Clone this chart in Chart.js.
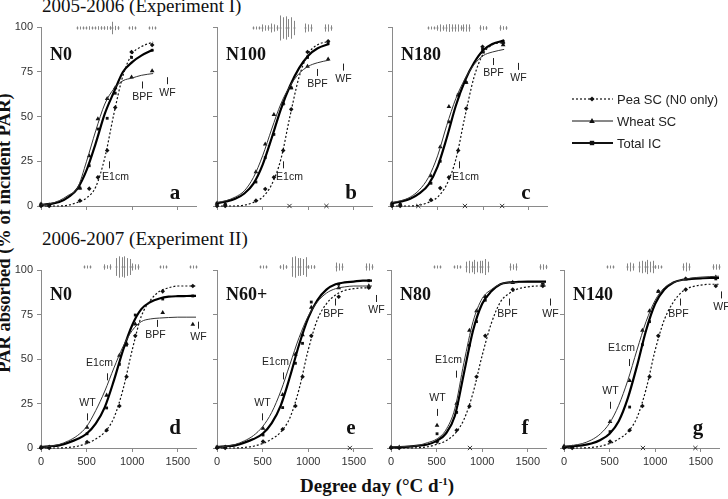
<!DOCTYPE html>
<html>
<head>
<meta charset="utf-8">
<script src="https://cdn.jsdelivr.net/npm/chart.js@4.4.0/dist/chart.umd.min.js"></script>
<style>
  body { margin: 0; background: #fff; width: 728px; height: 499px; overflow: hidden; position: relative; }
  .box { position: absolute; }
  .txt { position: absolute; white-space: nowrap; font-family: "Liberation Serif", "Times New Roman", serif; color: #111; line-height: 1; }
</style>
</head>
<body>
<div class="txt" style="left:42px;top:-4px;font-size:19px;">2005-2006 (Experiment I)</div>
<div class="txt" style="left:42px;top:229px;font-size:19px;">2006-2007 (Experiment II)</div>
<div class="txt" style="left:300px;top:476px;font-size:19px;font-weight:bold;">Degree day (°C d<sup style="font-size:11px;">-1</sup>)</div>
<div class="txt" style="left:4px;top:233px;font-size:18.5px;font-weight:bold;transform:translate(-50%,-50%) rotate(-90deg);">PAR absorbed (% of incident PAR)</div>

<script>
// observation dates (degree days)
const obsX1 = [0, 90, 427, 529, 624, 726, 814, 993, 1219];
const obsX2 = [0, 90, 505, 720, 860, 938, 1034, 1335, 1665];
// x positions where the fitted curves were read
const fitX1 = [0, 100, 200, 300, 400, 500, 600, 700, 800, 900, 1000, 1100, 1230];
const fitX2 = [0, 100, 200, 300, 400, 500, 600, 700, 800, 900, 1000, 1100, 1200, 1300, 1400, 1500, 1600, 1700];
const xTicks = [0, 500, 1000, 1500];
const yTicks = [0, 25, 50, 75, 100];

// --- a: N0 (2005-2006)
const peaObsA   = [0, 0, 3, 9.7, 16, 31, 55, 86, 90];
const wheatObsA = [1, 0.5, 10, 28, 48.6, 60, 66, 72, 75.5];
const totalObsA = [1, 0.5, 10, 22.5, 43, 49, 63, 83, 87];
const peaFitA   = [0, 0, 0, 0.5, 2, 4.5, 10.6, 27, 51.6, 73, 85, 89, 91.6];
const wheatFitA = [0.6, 1.3, 3, 6, 10, 25, 42, 57, 65.5, 70, 71.5, 73, 74];
const totalFitA = [0.6, 1.2, 2.2, 5, 9.7, 20, 35, 51.6, 63.7, 75, 80.4, 84, 87.3];
const peaSeA    = [0.5, 0.8, 0.8, 1, 3.5, 0.8, 0.6];
const wheatSeA  = [0.8, 1, 1, 1, 1.2, 1, 0.5];
const totalSeA  = [0.6, 0.8, 1, 1, 1, 0.8, 0.5];
const signifA   = [];

// --- b: N100
const peaObsB   = [0, 0, 3, 9.5, 16, 31, 54, 86, 92];
const wheatObsB = [1.5, 1, 19, 34.5, 51, 57.5, 66, 78, 82];
const totalObsB = [1.5, 1, 13.4, 27, 40, 57, 66, 83, 91];
const peaFitB   = [0, 0, 0, 0.5, 2, 5, 12, 26, 50, 72, 85, 90, 92];
const wheatFitB = [2, 3, 5, 8.5, 16, 28, 43, 57, 67, 74, 78, 80, 81.5];
const totalFitB = [1.5, 2.5, 4, 7, 12.5, 23, 38, 54, 67, 77, 84, 88, 90.5];
const peaSeB    = [0.5, 2, 2.5, 7, 5, 2.5, 2];
const wheatSeB  = [0.5, 1.5, 2, 6, 6, 2, 2];
const totalSeB  = [0.5, 1.5, 1.5, 6.5, 4, 2, 1.5];
const signifB   = [795, 1200];

// --- c: N180
const peaObsC   = [0, 0, 3.4, 10, 16, 31, 54.5, 89, 91];
const wheatObsC = [1.5, 1, 16.8, 33, 55.5, 62, 69, 86, 90];
const totalObsC = [1.5, 1, 12.7, 25, 47, 62, 69, 87.5, 92];
const peaFitC   = [0, 0, 0, 0.5, 2, 5, 12, 26, 50, 72, 85, 90, 91.5];
const wheatFitC = [2, 3, 5, 9, 16, 28, 45, 60, 71, 79, 84, 86, 87.5];
const totalFitC = [1.5, 2.5, 4, 7, 12, 22, 38, 56, 70, 80, 87, 90.5, 92.5];
const peaSeC    = [0.7, 1.5, 2, 2, 2, 1.5, 1.5];
const wheatSeC  = [0.7, 2, 2.2, 2, 2, 1, 1];
const totalSeC  = [0.5, 1.5, 2, 1.5, 2, 1, 1];
const signifC   = [288, 800, 1208];

// --- d: N0 (2006-2007)
const peaObsD   = [0, 0, 3.4, 10, 23.6, 40, 63, 88, 91];
const wheatObsD = [0.5, 0.5, 11.6, 29.6, 52, 58.7, 69.6, 76, 69.4];
const totalObsD = [0.5, 0.5, 8, 22.5, 47, 57.8, 74.7, 83.7, 85.4];
const peaFitD   = [0, 0, 0, 0.3, 1, 2.5, 5, 9, 17, 33, 55, 74, 83, 88, 90, 91, 91, 91];
const wheatFitD = [0.5, 1, 2, 4, 7, 12, 21, 32, 45, 57, 66, 71, 72.5, 73, 73.3, 73.5, 73.5, 73.5];
const totalFitD = [0.5, 1, 1.5, 3, 5, 8, 13.7, 23, 38, 55, 69, 78, 82, 84, 85, 85.3, 85.4, 85.5];
const peaSeD    = [0.6, 1.5, 5, 6, 2, 0.8, 0.5];
const wheatSeD  = [0.5, 1, 6, 5, 1.5, 0.7, 0.5];
const totalSeD  = [0.5, 1.5, 5.5, 4.5, 1.5, 0.6, 0.5];
const signifD   = [];

// --- e: N60+
const peaObsE   = [0, 0, 3.6, 10.5, 23.6, 40, 63, 85, 90];
const wheatObsE = [0.5, 0.5, 11, 30, 52.6, 63.5, 79, 90, 91];
const totalObsE = [0.5, 0.5, 7.3, 22.7, 47.6, 58.8, 82, 92, 94];
const peaFitE   = [0, 0, 0, 0.3, 1, 2.5, 5, 9, 17, 33, 55, 72, 81, 86, 88.5, 89.5, 90, 90];
const wheatFitE = [0.5, 1, 2, 4, 7, 12, 20, 32, 47, 62, 74, 82, 87, 89.5, 90.5, 91, 91, 91];
const totalFitE = [0.5, 1, 1.5, 3, 5, 8, 14, 24, 40, 58, 73, 83, 89, 92, 93, 93.5, 94, 94];
const peaSeE    = [0.3, 1, 5.5, 5, 1, 2.5, 2];
const wheatSeE  = [0.3, 1.5, 6, 4.5, 1, 2, 2];
const totalSeE  = [0.3, 1, 5, 5.5, 1, 2, 1.5];
const signifE   = [1457];

// --- f: N80
const peaObsF   = [0, 0, 3.5, 10, 23.4, 40, 63, 89, 91];
const wheatObsF = [0.5, 0.5, 12.7, 25, 66, 77, 85, 93, 92.5];
const totalObsF = [0.3, 0.3, 8, 20, 57.8, 71, 83, 93, 93];
const peaFitF   = [0, 0, 0, 0.2, 0.7, 2, 4, 8, 16, 31, 52, 70, 82, 87, 89.5, 90.5, 91, 91];
const wheatFitF = [0.5, 0.7, 1, 1.5, 3, 5, 10, 22, 48, 71, 84, 89, 92, 93, 93, 93, 93, 93];
const totalFitF = [0.3, 0.5, 0.8, 1.3, 2, 4, 8, 18, 42, 66, 81, 88, 92, 93, 93.3, 93.5, 93.5, 93.5];
const peaSeF    = [0.3, 0.8, 3, 4, 3.5, 2, 1.5];
const wheatSeF  = [0.3, 1, 3.5, 3, 4.5, 1.5, 1.5];
const totalSeF  = [0.3, 0.8, 3, 3.5, 3, 2, 1.2];
const signifF   = [866];

// --- g: N140
const peaObsG   = [0, 0, 3.6, 10, 23.6, 40, 63, 89, 91];
const wheatObsG = [1, 0.5, 14.8, 37.8, 66, 77, 88, 95, 96];
const totalObsG = [0.5, 0.5, 9.2, 23, 58, 71, 88, 95, 95];
const peaFitG   = [0, 0, 0, 0.3, 1, 2.5, 5, 9, 17, 33, 55, 72, 82, 88, 90.5, 91.5, 92, 92];
const wheatFitG = [1, 1.5, 2.5, 4.5, 8, 14, 24, 38, 55, 71, 83, 90, 93, 94.5, 95.5, 96, 96.3, 96.5];
const totalFitG = [0.5, 1, 1.5, 2.5, 4.5, 8, 15, 28, 46, 66, 81, 89, 93, 94.5, 95, 95.3, 95.5, 95.5];
const peaSeG    = [0.4, 2, 3, 4, 1, 2, 1.5];
const wheatSeG  = [0.4, 2.5, 3.5, 3, 1, 2.5, 1.5];
const totalSeG  = [0.4, 2, 3, 3.5, 0.8, 2, 1.5];
const signifG   = [866, 1441];

// crop stages: label, degree day, PAR level
const stagesA = [['BPF', 1104, 67.6], ['WF', 1387, 70], ['E1cm', 745, 23]];
const stagesB = [['BPF', 1093, 74.6], ['WF', 1382, 77.6], ['E1cm', 720, 23]];
const stagesC = [['BPF', 1104, 80.7], ['WF', 1385, 78], ['E1cm', 738, 23]];
const stagesD = [['BPF', 1275, 70], ['WF', 1725, 69], ['E1cm', 720, 40], ['WT', 508, 17.5]];
const stagesE = [['BPF', 1289, 82], ['WF', 1749, 84], ['E1cm', 719, 40.5], ['WT', 491, 17.5]];
const stagesF = [['BPF', 1297, 82], ['WF', 1749, 82], ['E1cm', 718, 41.5], ['WT', 500, 20]];
const stagesG = [['BPF', 1275, 82], ['WF', 1721, 86], ['E1cm', 714, 48], ['WT', 505, 24]];

const legendNames = ['Pea SC (N0 only)', 'Wheat SC', 'Total IC'];

// ---------------- layout ----------------
const AXW = 40, AXH = 25, PADT = 14, PLOTW = 155;
const rows = {
  1: { top: 27, bottom: 206, obsX: obsX1, fitX: fitX1, nameDy: 33, letterDy: -7, seDy: 1 },
  2: { top: 270, bottom: 448, obsX: obsX2, fitX: fitX2, nameDy: 30, letterDy: -14, seDy: -3 }
};
const panels = [
  { name: 'N0',   letter: 'a', row: 1, x0: 41,  showY: true,  pea: [peaObsA, peaFitA, peaSeA], wheat: [wheatObsA, wheatFitA, wheatSeA], total: [totalObsA, totalFitA, totalSeA], signif: signifA, stages: stagesA },
  { name: 'N100', letter: 'b', row: 1, x0: 217, showY: false, pea: [peaObsB, peaFitB, peaSeB], wheat: [wheatObsB, wheatFitB, wheatSeB], total: [totalObsB, totalFitB, totalSeB], signif: signifB, stages: stagesB },
  { name: 'N180', letter: 'c', row: 1, x0: 392, showY: false, pea: [peaObsC, peaFitC, peaSeC], wheat: [wheatObsC, wheatFitC, wheatSeC], total: [totalObsC, totalFitC, totalSeC], signif: signifC, stages: stagesC, legend: true },
  { name: 'N0',   letter: 'd', row: 2, x0: 41,  showY: true,  pea: [peaObsD, peaFitD, peaSeD], wheat: [wheatObsD, wheatFitD, wheatSeD], total: [totalObsD, totalFitD, totalSeD], signif: signifD, stages: stagesD },
  { name: 'N60+', letter: 'e', row: 2, x0: 217, showY: false, pea: [peaObsE, peaFitE, peaSeE], wheat: [wheatObsE, wheatFitE, wheatSeE], total: [totalObsE, totalFitE, totalSeE], signif: signifE, stages: stagesE },
  { name: 'N80',  letter: 'f', row: 2, x0: 391, showY: false, pea: [peaObsF, peaFitF, peaSeF], wheat: [wheatObsF, wheatFitF, wheatSeF], total: [totalObsF, totalFitF, totalSeF], signif: signifF, stages: stagesF },
  { name: 'N140', letter: 'g', row: 2, x0: 564, showY: false, pea: [peaObsG, peaFitG, peaSeG], wheat: [wheatObsG, wheatFitG, wheatSeG], total: [totalObsG, totalFitG, totalSeG], signif: signifG, stages: stagesG }
];

const SANS = '"Liberation Sans", Arial, sans-serif';
const SERIF = '"Liberation Serif", "Times New Roman", serif';
Chart.defaults.font.family = SANS;

const pts = (xs, ys) => ys.map((y, i) => ({ x: xs[i], y: y }));

// stage label placement (pixel offsets of the text vs. its tick)
const stageLook = {
  1: { BPF: ['below', 0], WF: ['below', 0], E1cm: ['below', 6] },
  2: { BPF: ['below', -2], WF: ['below', 0], E1cm: ['above', -8], WT: ['above', 0] }
};

function drawMarker(ctx, style, x, y) {
  ctx.beginPath();
  if (style === 'rectRot') {
    ctx.moveTo(x, y - 2.6); ctx.lineTo(x + 2.6, y); ctx.lineTo(x, y + 2.6); ctx.lineTo(x - 2.6, y);
  } else if (style === 'triangle') {
    ctx.moveTo(x, y - 3); ctx.lineTo(x + 2.8, y + 2); ctx.lineTo(x - 2.8, y + 2);
  } else {
    ctx.rect(x - 2.2, y - 2.2, 4.4, 4.4);
  }
  ctx.closePath();
  ctx.fill();
}

const extras = {
  id: 'extras',
  afterDatasetsDraw(chart, args, opts) {
    const p = opts.panel, r = rows[p.row];
    const ctx = chart.ctx, xs = chart.scales.x, ys = chart.scales.y, ca = chart.chartArea;
    ctx.save();
    // panel names and letters
    ctx.fillStyle = '#111';
    ctx.font = 'bold 18px ' + SERIF;
    ctx.textAlign = 'left'; ctx.textBaseline = 'alphabetic';
    ctx.fillText(p.name, ca.left + 9, ca.top + r.nameDy);
    ctx.font = 'bold 21px ' + SERIF;
    ctx.textAlign = 'center';
    ctx.fillText(p.letter, ca.left + 134, ca.bottom + r.letterDy);

    // standard error bars above the plot
    ctx.strokeStyle = '#858585'; ctx.lineWidth = 1;
    const cy = ys.getPixelForValue(100) + r.seDy;
    const pxPct = (ys.getPixelForValue(0) - ys.getPixelForValue(100)) / 100;
    const seX = r.obsX.slice(2);
    [p.pea[2], p.wheat[2], p.total[2]].forEach((se, k) => {
      se.forEach((v, i) => {
        const x = Math.round(xs.getPixelForValue(seX[i])) + (k - 1) * 3 + 0.5;
        const h = Math.max(v * pxPct, 1.5);
        ctx.beginPath(); ctx.moveTo(x, cy - h); ctx.lineTo(x, cy + h); ctx.stroke();
        if (k !== 1) { ctx.beginPath(); ctx.moveTo(x - 1, cy); ctx.lineTo(x + 1, cy); ctx.stroke(); }
      });
    });

    // growth stages
    ctx.strokeStyle = '#222'; ctx.fillStyle = '#222';
    ctx.font = '10.5px ' + SANS;
    ctx.textAlign = 'center'; ctx.textBaseline = 'middle';
    p.stages.forEach(([lab, dd, lvl]) => {
      const [pos, dx] = stageLook[p.row][lab];
      const x = Math.round(xs.getPixelForValue(dd)) + 0.5, y = ys.getPixelForValue(lvl);
      ctx.beginPath(); ctx.moveTo(x, y - 3.5); ctx.lineTo(x, y + 3.5); ctx.stroke();
      if (pos === 'below') ctx.fillText(lab, x + dx, y + 12);
      else ctx.fillText(lab, x + dx, y - 14);
    });

    // legend
    if (p.legend) {
      const lx = 572 - chart.canvas.parentNode.offsetLeft, ly = 99 - chart.canvas.parentNode.offsetTop;
      const looks = [[1.2, [2, 2], 'rectRot'], [1, [], 'triangle'], [2.2, [], 'rect']];
      ctx.font = '13px ' + SANS; ctx.textAlign = 'left';
      legendNames.forEach((nm, i) => {
        const y = ly + i * 22;
        ctx.lineWidth = looks[i][0]; ctx.setLineDash(looks[i][1]);
        ctx.strokeStyle = '#111';
        ctx.beginPath(); ctx.moveTo(lx, y); ctx.lineTo(lx + 41, y); ctx.stroke();
        ctx.setLineDash([]);
        ctx.fillStyle = '#111';
        drawMarker(ctx, looks[i][2], lx + 20, y);
        ctx.fillStyle = '#222';
        ctx.fillText(nm, lx + 45, y + 1);
      });
    }
    ctx.restore();
  }
};

panels.forEach(p => {
  const r = rows[p.row];
  const padR = p.legend ? 728 - (p.x0 + PLOTW) : 24;
  const left = p.x0 - AXW, top = r.top - PADT;
  const w = AXW + PLOTW + padR, h = PADT + (r.bottom - r.top) + AXH;
  const box = document.createElement('div');
  box.className = 'box';
  box.style.cssText = `left:${left}px;top:${top}px;width:${w}px;height:${h}px;`;
  const cv = document.createElement('canvas');
  cv.width = w; cv.height = h;
  box.appendChild(cv);
  document.body.appendChild(box);

  const curve = (ys, width, dash, color) => ({
    data: pts(r.fitX, ys), showLine: true, borderColor: color, borderWidth: width, borderDash: dash,
    pointRadius: 0, cubicInterpolationMode: 'monotone', clip: false
  });
  const marks = (ys, style, rad) => ({
    data: pts(r.obsX, ys), showLine: false, pointStyle: style, pointRadius: rad,
    backgroundColor: '#111', borderColor: '#111', borderWidth: 0, clip: false
  });

  new Chart(cv, {
    type: 'scatter',
    data: {
      datasets: [
        curve(p.pea[1], 1.2, [2, 2], '#111'),
        curve(p.wheat[1], 1, [], '#333'),
        curve(p.total[1], 2.2, [], '#000'),
        marks(p.pea[0], 'rectRot', 2.3),
        marks(p.wheat[0], 'triangle', 2.7),
        marks(p.total[0], 'rect', 2),
        { data: p.signif.map(x => ({ x: x, y: 0 })), pointStyle: 'crossRot', pointRadius: 3,
          borderColor: '#333', borderWidth: 1, backgroundColor: '#333', clip: false }
      ]
    },
    options: {
      responsive: false, animation: false, devicePixelRatio: 1, events: [],
      layout: { padding: { top: PADT, right: padR, left: 0, bottom: 0 } },
      plugins: { legend: { display: false }, tooltip: { enabled: false }, extras: { panel: p } },
      scales: {
        x: {
          type: 'linear', min: 0, max: 1700,
          afterBuildTicks: s => { s.ticks = xTicks.map(v => ({ value: v })); },
          afterFit: s => { s.height = AXH; },
          border: { color: '#8a8a8a', width: 1 },
          grid: { drawOnChartArea: false, tickLength: 4, color: '#8a8a8a' },
          ticks: { display: p.row === 2, color: '#333', font: { size: 11 }, padding: 3, maxRotation: 0, callback: v => String(v) }
        },
        y: {
          min: 0, max: 100,
          afterBuildTicks: s => { s.ticks = yTicks.map(v => ({ value: v })); },
          afterFit: s => { s.width = AXW; },
          border: { color: '#8a8a8a', width: 1 },
          grid: { drawOnChartArea: false, tickLength: 4, color: '#8a8a8a' },
          ticks: { display: p.showY, color: '#333', font: { size: 11 }, padding: 4, callback: v => String(v) }
        }
      }
    },
    plugins: [extras]
  });
});
</script>
</body>
</html>
